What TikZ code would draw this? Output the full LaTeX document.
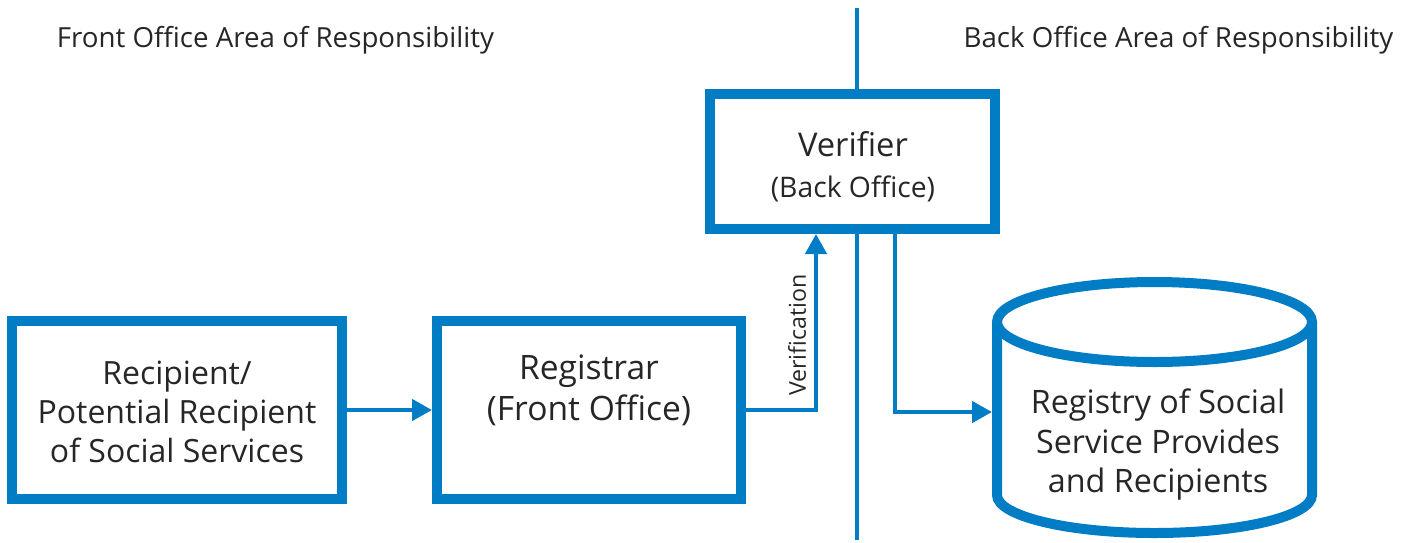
\documentclass[tikz,border=0pt]{standalone}
\usepackage{fontspec}
\setmainfont{Open Sans}
\usetikzlibrary{arrows.meta}
\definecolor{ablue}{RGB}{0,125,197}
\definecolor{ink}{RGB}{38,38,38}

\begin{document}
\begin{tikzpicture}[x=1pt,y=-1pt,
  frame/.style={draw=ablue, line width=10pt, fill=white, inner sep=0pt},
  ln/.style={text=ink, inner sep=0pt, anchor=base},
  hdr/.style={ln, font=\fontsize{27.7}{32}\selectfont},
  link/.style={draw=ablue, line width=4.5pt, -{Triangle[length=20pt,width=21pt]}},
  divider/.style={draw=ablue, line width=4.5pt}]

\useasboundingbox (0,0) rectangle (1411,542);

% area headings
\node[hdr] (fo) at (275.5,47) {Front Office Area of Responsibility};
\node[hdr] (bo) at (1178.5,47) {Back Office Area of Responsibility};

% boundary between the two areas
\coordinate (divT) at (857,8);
\coordinate (divB) at (857,540);
\draw[divider] (divT) -- (divB);

% recipient
\node[frame, minimum width=330pt, minimum height=178pt] (rec) at (177,410) {};
\begin{scope}[every node/.style={ln, font=\fontsize{32}{38}\selectfont}]
  \node (rec1) at (177,384) {Recipient/};
  \node (rec2) at (177,423) {Potential Recipient};
  \node (rec3) at (177,462) {of Social Services};
\end{scope}

% registrar
\node[frame, minimum width=304pt, minimum height=178pt] (rgs) at (589,410) {};
\begin{scope}[every node/.style={ln, font=\fontsize{33.6}{40}\selectfont}]
  \node (rgs1) at (589,379) {Registrar};
  \node (rgs2) at (589,420) {(Front Office)};
\end{scope}

% verifier
\node[frame, minimum width=285pt, minimum height=135pt] (ver) at (852.5,161.5) {};
\node[ln, font=\fontsize{32.7}{40}\selectfont] (ver1) at (853,156) {Verifier};
\node[ln, font=\fontsize{28.3}{34}\selectfont] (ver2) at (853,197) {(Back Office)};

% registry drum
\fill[white] (997,322) -- (997,495)
  arc[start angle=180, end angle=360, x radius=157.5pt, y radius=38pt]
  -- (1312,322) -- cycle;
\draw[ablue, line width=10pt] (997,322) -- (997,495)
  arc[start angle=180, end angle=360, x radius=157.5pt, y radius=38pt]
  -- (1312,322);
\draw[ablue, line width=10pt, fill=white] (1154.5,322) ellipse[x radius=157.5pt, y radius=40pt];
\begin{scope}[every node/.style={ln, font=\fontsize{32.3}{39}\selectfont}]
  \node (reg1) at (1158,413) {Registry of Social};
  \node (reg2) at (1158,453) {Service Provides};
  \node (reg3) at (1158,492) {and Recipients};
\end{scope}
\coordinate (regW) at (992,412);

% connectors
\draw[link] (rec.east) -- (rgs.west);
\draw[link] (rgs.east) -| ([xshift=-36.5pt]ver.south);
\draw[link] ([xshift=42.5pt]ver.south) |- (regW);

\node[text=ink, rotate=90, inner sep=0pt, font=\fontsize{23.2}{28}\selectfont] (vlab) at (797,335) {Verification};

\end{tikzpicture}
\end{document}
